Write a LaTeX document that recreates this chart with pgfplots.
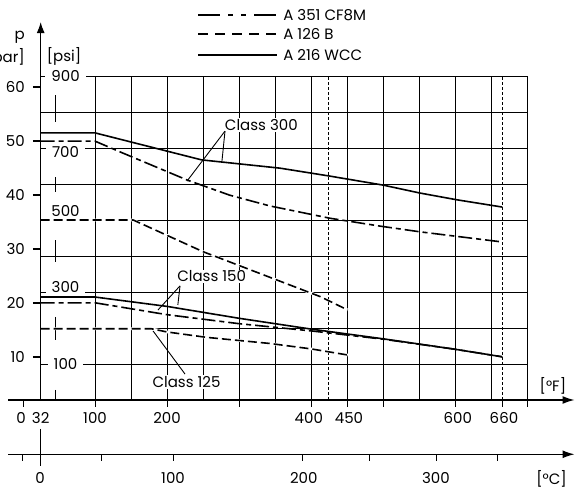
\documentclass[border=0pt]{standalone}
\usepackage{pgfplots}
\pgfplotsset{compat=1.18}
\usepackage{fontspec}
\setmainfont{Poppins}
\usetikzlibrary{arrows.meta}

\tikzset{
  wcc/.style={black, line width=1.6pt},
  cf8m/.style={black, line width=1.6pt, dash pattern=on 14pt off 4pt on 5pt off 4pt},
  a126/.style={black, line width=1.6pt, dash pattern=on 9pt off 4pt,
               preaction={draw=white, solid, line width=2.6pt}},
  lab/.style={fill=white, inner xsep=2pt, inner ysep=1pt},
  txt/.style={inner sep=0pt},
  ax/.style={black, line width=1.3pt},
  thin/.style={black, line width=0.9pt},
}

\begin{document}
\begin{tikzpicture}[font=\fontsize{15}{18}\selectfont]
\useasboundingbox (0,0) rectangle (576pt,490pt);
\begin{axis}[
  at={(40.7pt,90pt)}, anchor=south west,
  scale only axis, width=486.3pt, height=324pt,
  xmin=24.5, xmax=700, ymin=0, ymax=900,
  clip=false,
  xtick={100,150,...,700}, ytick={100,200,...,900},
  xticklabels={}, yticklabels={},
  major tick length=0pt,
  grid=major,
  major grid style={black, line width=0.9pt},
  axis line style={black, line width=0.9pt},
]

% broken line near the axis
\draw[thin] (axis cs:44.4,847) -- (axis cs:44.4,772);
\draw[thin] (axis cs:44.4,619) -- (axis cs:44.4,578);
\draw[thin] (axis cs:44.4,444) -- (axis cs:44.4,383);
\draw[thin] (axis cs:44.4,231) -- (axis cs:44.4,167);
\draw[thin] (axis cs:44.4,28) -- (axis cs:44.4,0);

% dashed limits
\draw[black, line width=0.7pt, dash pattern=on 3pt off 2pt] (axis cs:424.5,0) -- (axis cs:424.5,900);
\draw[black, line width=0.7pt, dash pattern=on 3pt off 2pt] (axis cs:665.5,0) -- (axis cs:665.5,900);

% psi labels
\node[lab, inner xsep=6pt] at (axis cs:59,900) {900};
\node[lab, inner xsep=6pt] at (axis cs:59,690) {700};
\node[lab, inner xsep=6pt] at (axis cs:59,525) {500};
\node[lab, inner xsep=6pt] at (axis cs:59,314) {300};
\node[lab, inner xsep=6pt] at (axis cs:59,100) {100};

% class labels and leaders
\node[lab] at (axis cs:331,764) {Class 300};
\node[lab] at (axis cs:262,344) {Class 150};
\node[lab] at (axis cs:227,50) {Class 125};
\draw[thin] (axis cs:280.5,747) -- (axis cs:227.7,608);
\draw[thin] (axis cs:280.5,747) -- (axis cs:276.3,664);
\draw[thin] (axis cs:218,317) -- (axis cs:187.4,250);
\draw[thin] (axis cs:218,317) -- (axis cs:215,264);
\draw[thin] (axis cs:225,72) -- (axis cs:180.5,192);

% A 216 WCC
\addplot[wcc] coordinates {(24.5,742)(100,742)(248,667)(357,644)(426,622)(500,597)(551,575)(603,556)(665.5,536)};
\addplot[wcc] coordinates {(24.5,286)(100,286)(200,260)(300,227)(400,197)(500,170)(600,141)(665.5,120)};
% A 351 CF8M
\addplot[cf8m] coordinates {(24.5,719)(100,719)(135,689)(228,611)(287,569)(343,539)(426,505)(496,483)(552,467)(665.5,439)};
\addplot[cf8m] coordinates {(24.5,270)(100,270)(200,237)(300,212)(400,192)(500,169)(600,141)(665.5,120)};
% A 126 B
\addplot[a126] coordinates {(24.5,500)(153,500)(250,412)(413,287)(451,250)};
\addplot[a126] coordinates {(24.5,198)(178,198)(200,189)(255,174)(343,157)(400,142)(451,125)};

% axes
\draw[ax, -{Latex[length=11pt,width=8pt]}] (axis cs:24.5,0) -- (axis cs:24.5,1050);
\draw[ax, -{Latex[length=12pt,width=8pt]}] (axis cs:-20.5,0) -- (axis cs:766,0);
\draw[ax, -{Latex[length=12pt,width=8pt]}] (axis cs:-20.5,-150.8) -- (axis cs:766,-150.8);
\draw[ax] (axis cs:24.5,-80.5) -- (axis cs:24.5,-183);

% bar ticks
\draw[ax] (axis cs:13.8,869.4) -- (axis cs:24.5,869.4);
\draw[ax] (axis cs:13.8,719.4) -- (axis cs:24.5,719.4);
\draw[ax] (axis cs:13.8,569.4) -- (axis cs:24.5,569.4);
\draw[ax] (axis cs:13.8,419.4) -- (axis cs:24.5,419.4);
\draw[ax] (axis cs:13.8,269.4) -- (axis cs:24.5,269.4);
\draw[ax] (axis cs:13.8,119.4) -- (axis cs:24.5,119.4);
\node[txt, anchor=east] at (axis cs:2.7,869.4) {60};
\node[txt, anchor=east] at (axis cs:2.7,719.4) {50};
\node[txt, anchor=east] at (axis cs:2.7,569.4) {40};
\node[txt, anchor=east] at (axis cs:2.7,419.4) {30};
\node[txt, anchor=east] at (axis cs:2.7,269.4) {20};
\node[txt, anchor=east] at (axis cs:2.7,119.4) {10};
\node[txt, anchor=east] at (axis cs:2.7,1008) {p};
\node[txt, anchor=east] at (axis cs:2.7,953) {[bar]};
\node[txt] at (axis cs:56.9,955.6) {[psi]};

% F ticks
\draw[thin] (axis cs:0,0) -- (axis cs:0,-18.6);
\draw[thin] (axis cs:100,0) -- (axis cs:100,-18.6);
\draw[thin] (axis cs:200,0) -- (axis cs:200,-18.6);
\draw[thin] (axis cs:300,0) -- (axis cs:300,-18.6);
\draw[thin] (axis cs:400,0) -- (axis cs:400,-18.6);
\draw[thin] (axis cs:450,0) -- (axis cs:450,-18.6);
\draw[thin] (axis cs:500,0) -- (axis cs:500,-18.6);
\draw[thin] (axis cs:600,0) -- (axis cs:600,-18.6);
\draw[thin] (axis cs:665.5,0) -- (axis cs:665.5,-18.6);
\draw[thin] (axis cs:700,0) -- (axis cs:700,-18.6);
\node[txt] at (axis cs:-2.9,-50) {0};
\node[txt] at (axis cs:24.5,-50) {32};
\node[txt] at (axis cs:100,-50) {100};
\node[txt] at (axis cs:200,-50) {200};
\node[txt] at (axis cs:397,-50) {400};
\node[txt] at (axis cs:452.7,-50) {450};
\node[txt] at (axis cs:604,-50) {600};
\node[txt] at (axis cs:668,-50) {660};
\node[txt] at (axis cs:736,38.9) {[°F]};

% C ticks
\draw[thin] (axis cs:-0.5,-150.8) -- (axis cs:-0.5,-169.4);
\draw[thin] (axis cs:108.3,-150.8) -- (axis cs:108.3,-169.4);
\draw[thin] (axis cs:208.7,-150.8) -- (axis cs:208.7,-169.4);
\draw[thin] (axis cs:387.4,-150.8) -- (axis cs:387.4,-169.4);
\draw[thin] (axis cs:480.9,-150.8) -- (axis cs:480.9,-169.4);
\draw[thin] (axis cs:574.5,-150.8) -- (axis cs:574.5,-169.4);
\draw[thin] (axis cs:659.2,-150.8) -- (axis cs:659.2,-169.4);
\node[txt] at (axis cs:23.5,-217) {0};
\node[txt] at (axis cs:208.3,-217) {100};
\node[txt] at (axis cs:390,-217) {200};
\node[txt] at (axis cs:573.5,-217) {300};
\node[txt] at (axis cs:734,-219) {[°C]};

% legend
\draw[black, line width=1.6pt, dash pattern=on 22pt off 8pt on 5pt off 8pt on 5pt off 8pt] (axis cs:243,1069.4) -- (axis cs:352.7,1069.4);
\draw[black, line width=1.6pt, dash pattern=on 10pt off 7pt] (axis cs:243,1016.7) -- (axis cs:352.7,1016.7);
\draw[black, line width=1.6pt] (axis cs:243,958.3) -- (axis cs:352.7,958.3);
\node[txt, anchor=west] at (axis cs:361.3,1069.4) {A 351 CF8M};
\node[txt, anchor=west] at (axis cs:361.3,1016.7) {A 126 B};
\node[txt, anchor=west] at (axis cs:361.3,958.3) {A 216 WCC};

\end{axis}
\end{tikzpicture}
\end{document}
